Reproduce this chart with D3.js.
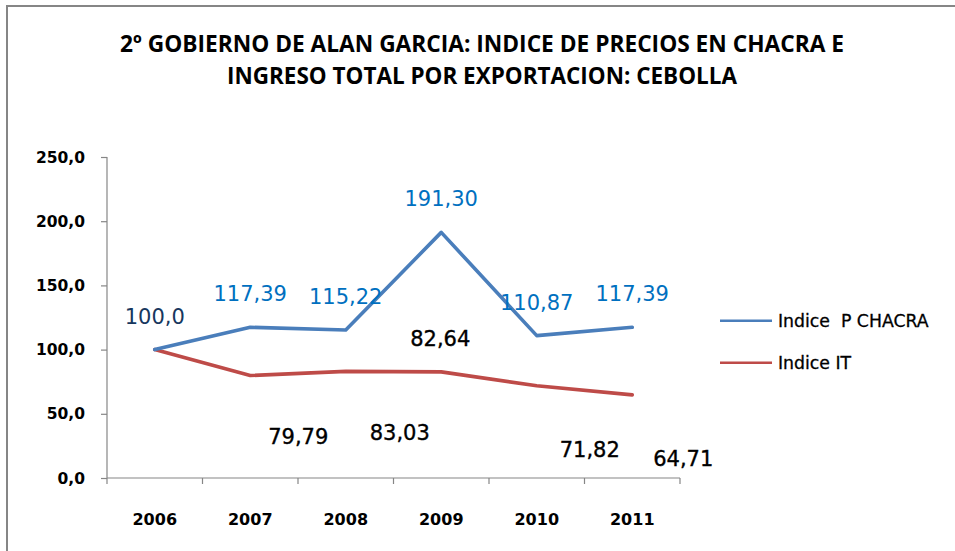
<!DOCTYPE html>
<html>
<head>
<meta charset="utf-8">
<script src="https://cdn.jsdelivr.net/npm/d3@7/dist/d3.min.js"></script>
<style>
  html, body { margin: 0; padding: 0; background: #ffffff; }
  svg { display: block; }
</style>
</head>
<body>
<script>
// ---------- data ----------
const titleLines = [
  "2º GOBIERNO DE ALAN GARCIA: INDICE DE PRECIOS EN CHACRA E",
  "INGRESO TOTAL POR EXPORTACION: CEBOLLA"
];
const years = ["2006", "2007", "2008", "2009", "2010", "2011"];
const seriesNames = ["Indice  P CHACRA", "Indice IT"];
const chacraValues = [100.0, 117.39, 115.22, 191.30, 110.87, 117.39];
const itValues = [100.0, 79.79, 83.03, 82.64, 71.82, 64.71];
const chacraLabels = ["100,0", "117,39", "115,22", "191,30", "110,87", "117,39"];
const itLabels = [null, "79,79", "83,03", "82,64", "71,82", "64,71"];
const yTicks = [0, 50, 100, 150, 200, 250];
const yTickLabels = ["0,0", "50,0", "100,0", "150,0", "200,0", "250,0"];

// ---------- layout (manual label placement, as in the original) ----------
const itLabelOffsets = [null, [48, 61], [54, 62], [-1, -33], [53, 64], [51, 64]];

const W = 955, H = 551;
const svg = d3.select("body").append("svg")
  .attr("width", W).attr("height", H);

// outer chart border (only top and left edges visible in frame)
svg.append("rect")
  .attr("x", 7).attr("y", 6)
  .attr("width", 1000).attr("height", 700)
  .attr("fill", "#ffffff")
  .attr("stroke", "#868686").attr("stroke-width", 2);

// title
const titleWidths = [724, 510];
const titleBaselines = [52, 84];
titleLines.forEach((t, i) => {
  svg.append("text")
    .attr("x", 482).attr("y", titleBaselines[i])
    .attr("text-anchor", "middle")
    .attr("font-family", "'Liberation Sans Narrow', 'Open Sans', 'Liberation Sans', Arial, sans-serif")
    .attr("font-weight", "bold")
    .attr("font-size", 23.5)
    .attr("fill", "#000000")
    .attr("textLength", titleWidths[i])
    .attr("lengthAdjust", "spacingAndGlyphs")
    .text(t);
});

// scales
const x = d3.scaleBand().domain(years).range([107, 680]).paddingInner(0).paddingOuter(0);
const y = d3.scaleLinear().domain([0, 250]).range([478, 157]);
const cx = d => x(d) + x.bandwidth() / 2;

const axisColor = "#868686";
const tickFont = "'DejaVu Sans', Verdana, sans-serif";

// y axis
const yAxis = svg.append("g").attr("transform", "translate(107,0)")
  .call(d3.axisLeft(y).tickValues(yTicks).tickSize(6).tickPadding(16)
    .tickFormat((d, i) => yTickLabels[i]));
yAxis.select(".domain").attr("stroke", axisColor).attr("stroke-width", 1.2)
  .attr("d", `M0,${y(250)}V${y(0)}`);
yAxis.selectAll(".tick line").attr("stroke", axisColor).attr("stroke-width", 1.2);
yAxis.selectAll(".tick text")
  .attr("font-family", tickFont).attr("font-weight", "bold")
  .attr("font-size", 15.5).attr("fill", "#000000")
  .attr("dy", null).attr("dominant-baseline", "central");

// x axis
const xAxis = svg.append("g").attr("transform", `translate(0,${y(0)})`)
  .call(d3.axisBottom(x).tickSize(0).tickPadding(0));
xAxis.select(".domain").attr("stroke", axisColor).attr("stroke-width", 1.2)
  .attr("d", `M107,0H680`);
xAxis.selectAll(".tick text")
  .attr("font-family", tickFont).attr("font-weight", "bold")
  .attr("font-size", 16).attr("fill", "#000000")
  .attr("y", 41).attr("dy", null).attr("dominant-baseline", "central");
// band boundary tick marks
const boundaries = years.map(d => x(d)).concat([x(years[years.length - 1]) + x.bandwidth()]);
xAxis.selectAll(".bound").data(boundaries).enter().append("line")
  .attr("x1", d => d).attr("x2", d => d)
  .attr("y1", 0).attr("y2", 6)
  .attr("stroke", axisColor).attr("stroke-width", 1.2);

// lines
const blue = "#4a7ebb", red = "#be4b48";
const line = d3.line().x(d => cx(d[0])).y(d => y(d[1]));
svg.append("path")
  .datum(years.map((yr, i) => [yr, itValues[i]]))
  .attr("d", line).attr("fill", "none")
  .attr("stroke", red).attr("stroke-width", 3.6)
  .attr("stroke-linejoin", "round").attr("stroke-linecap", "round");
svg.append("path")
  .datum(years.map((yr, i) => [yr, chacraValues[i]]))
  .attr("d", line).attr("fill", "none")
  .attr("stroke", blue).attr("stroke-width", 3.6)
  .attr("stroke-linejoin", "round").attr("stroke-linecap", "round");

// data labels
const labelFont = "'DejaVu Sans', Verdana, sans-serif";
svg.selectAll(".lblc").data(years).enter().append("text")
  .attr("x", d => cx(d))
  .attr("y", (d, i) => y(chacraValues[i]) - 33)
  .attr("text-anchor", "middle")
  .attr("dominant-baseline", "central")
  .attr("font-family", labelFont).attr("font-size", 21)
  .attr("fill", (d, i) => i === 0 ? "#17375e" : "#0070c0")
  .text((d, i) => chacraLabels[i]);

svg.selectAll(".lbli").data(years.filter((d, i) => itLabels[i] !== null)).enter().append("text")
  .attr("x", d => { const i = years.indexOf(d); return cx(d) + itLabelOffsets[i][0]; })
  .attr("y", d => { const i = years.indexOf(d); return y(itValues[i]) + itLabelOffsets[i][1]; })
  .attr("text-anchor", "middle")
  .attr("dominant-baseline", "central")
  .attr("font-family", labelFont).attr("font-size", 21)
  .attr("fill", "#000000")
  .attr("stroke", "#000000").attr("stroke-width", 0.35)
  .text(d => itLabels[years.indexOf(d)]);

// legend
const legendColors = [blue, red];
const legendY = [320.7, 362.7];
seriesNames.forEach((name, i) => {
  svg.append("line")
    .attr("x1", 720).attr("x2", 772)
    .attr("y1", legendY[i]).attr("y2", legendY[i])
    .attr("stroke", legendColors[i]).attr("stroke-width", 2.6);
  svg.append("text")
    .attr("x", 778).attr("y", legendY[i])
    .attr("dominant-baseline", "central")
    .attr("font-family", labelFont).attr("font-size", 17.3)
    .attr("fill", "#000000")
    .attr("stroke", "#000000").attr("stroke-width", 0.3)
    .style("white-space", "pre")
    .attr("xml:space", "preserve")
    .text(name);
});
</script>
</body>
</html>
